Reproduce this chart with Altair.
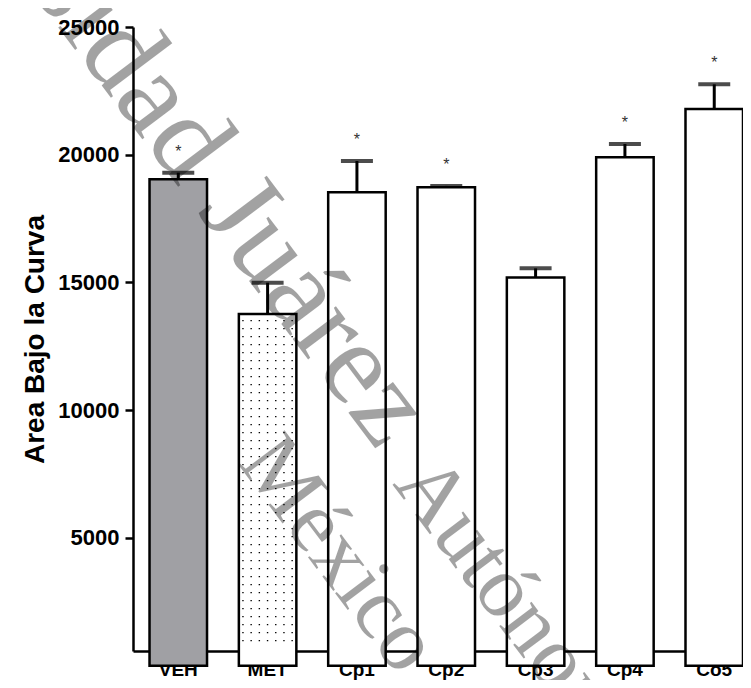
import altair as alt
import pandas as pd

groups = ["VEH", "MET", "Cp1", "Cp2", "Cp3", "Cp4", "Co5"]
means = [19040, 13770, 18530, 18730, 15200, 19900, 21790]
errors = [258, 1222, 1225, 50, 353, 521, 966]
significant = [True, False, True, True, False, True, True]
fills = ["#a0a0a4", "#ffffff", "#ffffff", "#ffffff", "#ffffff", "#ffffff", "#ffffff"]
y_ticks = [5000, 10000, 15000, 20000, 25000]
y_title = "Area Bajo la Curva"
watermark_1a = "Universidad Juárez"
watermark_1b = "Autónoma de Tabasco"
watermark_2 = "México"

df = pd.DataFrame({"cat": groups, "mean": means, "err": errors, "sig": significant})
df["hi"] = df["mean"] + df["err"]

W, H = 610, 624
FONT = "Liberation Sans"
Y_MIN = 577

x_scale = alt.Scale(domain=groups, paddingInner=0.3563, paddingOuter=0.0925, align=1)
y_scale = alt.Scale(domain=[Y_MIN, 25000], nice=False, zero=False)

x_enc = alt.X("cat:N", scale=x_scale, sort=groups,
              axis=alt.Axis(title=None, labelAngle=0, labelFont=FONT, labelFontSize=19,
                            labelFontWeight="bold", labelColor="black", labelPadding=1,
                            labelBaseline="top",
                            tickSize=8, tickWidth=2.5, tickColor="black",
                            domainColor="black", domainWidth=2.5, grid=False))
y_enc = alt.Y("mean:Q", scale=y_scale,
              axis=alt.Axis(title=y_title, values=y_ticks, format="d", labelFont=FONT,
                            labelFontSize=22, labelFontWeight="bold", labelColor="black",
                            labelPadding=6, tickSize=8, tickWidth=2.5, tickColor="black",
                            domainColor="black", domainWidth=2.5, grid=False,
                            titleFont=FONT, titleFontSize=28, titleFontWeight="bold",
                            titleColor="black", titlePadding=8))

base = alt.Chart(df)
xs = alt.X("cat:N", scale=x_scale, sort=groups)

bars = base.mark_bar(stroke="black", strokeWidth=2.5).encode(
    x=x_enc,
    y=y_enc,
    color=alt.Color("cat:N", scale=alt.Scale(domain=groups, range=fills), legend=None),
)

# stippled texture of the MET bar: columns of dots drawn as dashed rules
dot_layers = []
for k in range(7):
    dot_layers.append(
        base.transform_filter("datum.cat == 'MET'").mark_rule(
            color="black", strokeWidth=1.4, strokeDash=[1.4, 6.6], strokeDashOffset=-6
        ).encode(
            x=xs,
            xOffset=alt.value(4.1 + 8.2 * k),
            y=alt.Y("mean:Q", scale=y_scale),
            y2=alt.datum(Y_MIN + 120),
        )
    )

stems = base.mark_rule(color="black", strokeWidth=3).encode(
    x=xs,
    y=alt.Y("mean:Q", scale=y_scale),
    y2="hi:Q",
)

caps = base.mark_tick(color="black", size=32, thickness=4).encode(
    x=xs,
    y=alt.Y("hi:Q", scale=y_scale),
)

stars = base.transform_filter("datum.sig").mark_text(
    text="*", font=FONT, fontSize=16, color="#333333", baseline="middle", dy=-21
).encode(
    x=xs,
    y=alt.Y("hi:Q", scale=y_scale),
)

wm_style = dict(font="Liberation Serif", color="black", opacity=0.36, angle=53,
                baseline="alphabetic")
one = df.head(1)
wm1a = alt.Chart(one).mark_text(align="right", fontSize=118, **wm_style).encode(
    x=alt.value(245), y=alt.value(425), text=alt.value(watermark_1a))
wm1b = alt.Chart(one).mark_text(align="left", fontSize=88, **wm_style).encode(
    x=alt.value(259), y=alt.value(457), text=alt.value(watermark_1b))
wm2 = alt.Chart(one).mark_text(align="left", fontSize=88, **wm_style).encode(
    x=alt.value(104), y=alt.value(436), text=alt.value(watermark_2))

chart = alt.layer(bars, *dot_layers, stems, caps, stars, wm1a, wm1b, wm2).properties(
    width=W, height=H,
    autosize=alt.AutoSizeParams(type="none"),
    padding={"left": 125, "top": 19, "right": 0, "bottom": 29},
).configure(background="white", view=alt.ViewConfig(stroke=None))

chart.save("out.html", embed_options={"renderer": "svg", "actions": False})
